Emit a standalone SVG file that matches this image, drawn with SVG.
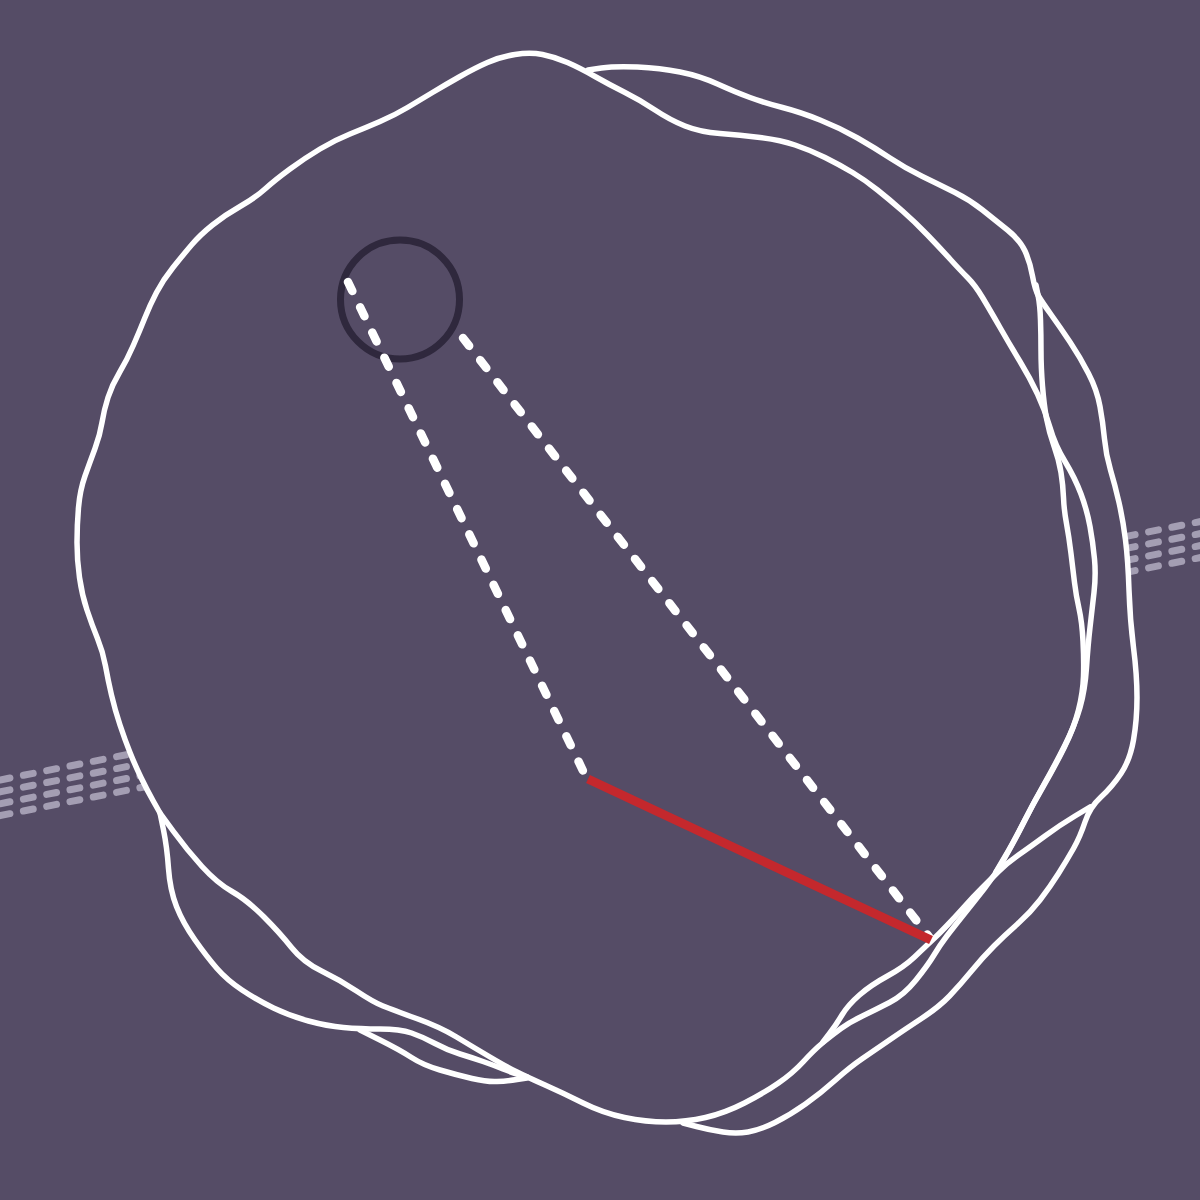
<svg xmlns="http://www.w3.org/2000/svg" width="1200" height="1200" viewBox="0 0 1200 1200">
<style>
.bg{fill:#554C66}
.band{stroke:#A49EB3;stroke-width:7;stroke-linecap:round;stroke-dasharray:10 13.76;fill:none}
.rough{fill:none;stroke:#FFFFFF;stroke-width:5.5;stroke-linecap:round;stroke-linejoin:round}
.dash{fill:none;stroke:#FFFFFF;stroke-width:8.5;stroke-linecap:round;stroke-dasharray:10 18}
.red{fill:none;stroke:#C4282D;stroke-width:9;stroke-linecap:butt}
.ring{fill:none;stroke:#2F283D;stroke-width:7}
</style>
<defs>
<clipPath id="clipL"><polygon points="0,600 102,640 105,666 115,710 125,740 135,765 147,790 160,813 168,850 0,900"/></clipPath>
<clipPath id="clipR"><rect x="1127" y="480" width="80" height="120"/></clipPath>
</defs>
<rect class="bg" x="0" y="0" width="1200" height="1200"/>
<g id="bands">
<g clip-path="url(#clipL)">
<line class="band" x1="-23.2" y1="784.6" x2="200" y2="740"/>
<line class="band" x1="-23.2" y1="796.5" x2="200" y2="751.9"/>
<line class="band" x1="-23.2" y1="808.4" x2="200" y2="763.8"/>
<line class="band" x1="-23.2" y1="820.3" x2="200" y2="775.7"/>
</g>
<g clip-path="url(#clipR)">
<line class="band" x1="1102" y1="541.2" x2="1220" y2="517.6"/>
<line class="band" x1="1102" y1="553.2" x2="1220" y2="529.6"/>
<line class="band" x1="1102" y1="565.2" x2="1220" y2="541.6"/>
<line class="band" x1="1102" y1="577.2" x2="1220" y2="553.6"/>
</g>
</g>
<g id="rough-circle">
<path class="rough" d="M160,813 L153.5,801.5 Q147,790 141,777.5 Q135,765 130,752.5 Q125,740 120,725 Q115,710 111.5,695 Q108,680 105.5,666 Q103,652 97.5,638.5 Q92,625 87,610 Q82,595 79.5,577.5 Q77,560 77,542.5 Q77,525 78.5,507.5 Q80,490 85,476 Q90,462 95,448.5 Q100,435 102,422.5 Q104,410 108,397.5 Q112,385 119.5,372.5 Q127,360 133.5,345 Q140,330 145,317.5 Q150,305 156.5,292.5 Q163,280 173,267.5 Q183,255 191.5,245 Q200,235 212.5,225 Q225,215 240,206.5 Q255,198 265,189 Q275,180 290,169 Q305,158 320,149 Q335,140 350,134 Q365,128 380,121.5 Q395,115 407.5,107.5 Q420,100 432.5,92.5 Q445,85 460,76.5 Q475,68 487.5,62.5 Q500,57 515,54.5 Q530,52 542.5,54.5 Q555,57 567.5,62.5 Q580,68 595,76.5 Q610,85 625,92.5 Q640,100 655,110 Q670,120 685,126 Q700,132 720,133.5 Q740,135 760,137.5 Q780,140 795,145 Q810,150 825,157.5 Q840,165 852.5,172.5 Q865,180 877.5,190 Q890,200 902.5,211 Q915,222 927.5,235 Q940,248 950,259 Q960,270 967.5,277.5 Q975,285 982.5,297.5 Q990,310 1000,327.5 Q1010,345 1020,361.5 Q1030,378 1037.5,394 Q1045,410 1050,427.5 Q1055,445 1065,461.5 Q1075,478 1081,494 Q1087,510 1090,526.5 Q1093,543 1094.5,559 Q1096,575 1094,592.5 Q1092,610 1090,627.5 Q1088,645 1086.5,667.5 Q1085,690 1080,707.5 Q1075,725 1065,745 Q1055,765 1045,782.5 Q1035,800 1025,820 Q1015,840 1005,857.5 Q995,875 984,889 Q973,903 963,915.5 Q953,928 946.5,936.5 Q940,945 934,955 Q928,965 916,980 Q904,995 889.5,1002.5 Q875,1010 862.5,1016 Q850,1022 841,1028.5 Q832,1035 823,1042.5 Q814,1050 803.5,1061.5 Q793,1073 778.5,1083 Q764,1093 744.5,1103 Q725,1113 705.5,1117.5 Q686,1122 666,1122 Q646,1122 624.5,1117.5 Q603,1113 583,1103 Q563,1093 545,1085 Q527,1077 517,1072 Q507,1067 490,1057 Q473,1047 456.5,1037 Q440,1027 416.5,1018.5 Q393,1010 383,1006 Q373,1002 356.5,991 Q340,980 321.5,971 Q303,962 291.5,947.5 Q280,933 263.5,916.5 Q247,900 232,891.5 Q217,883 202,866.5 Q187,850 173.5,831.5 L160,813"/>
<path class="rough" d="M527,1077 L520,1075 Q513,1073 503,1069 Q493,1065 483,1061.5 Q473,1058 460,1054 Q447,1050 435,1043.5 Q423,1037 411.5,1033 Q400,1029 380,1029 Q360,1029 343.5,1027.5 Q327,1026 308.5,1021 Q290,1016 273.5,1008 Q257,1000 242,990 Q227,980 217,968.5 Q207,957 195,940 Q183,923 176.5,906.5 Q170,890 168.5,868.5 Q167,847 163.5,830 L160,813"/>
<path class="rough" d="M527,1078 L517,1079.5 Q507,1081 497,1081.5 Q487,1082 472,1078.5 Q457,1075 440,1070 Q423,1065 411.5,1057.5 Q400,1050 380,1040 L360,1030"/>
<path class="rough" d="M588,70 L601.5,68 Q615,66 637.5,67 Q660,68 680,72 Q700,76 717.5,84 Q735,92 750,97.5 Q765,103 782.5,107.5 Q800,112 820,120 Q840,128 857.5,138 Q875,148 890,158 Q905,168 922.5,176.5 Q940,185 955,192.5 Q970,200 982.5,210 Q995,220 1007.5,230 Q1020,240 1025,251 Q1030,262 1032.5,276 Q1035,290 1038.5,296 Q1042,302 1051,314.5 Q1060,327 1070,342 Q1080,357 1088.5,373.5 Q1097,390 1100,406.5 Q1103,423 1104.5,439 Q1106,455 1110.5,470 Q1115,485 1119,502.5 Q1123,520 1125.5,540 Q1128,560 1129,590 Q1130,620 1133.5,647.5 Q1137,675 1137,697.5 Q1137,720 1133.5,740 Q1130,760 1121,773.5 Q1112,787 1101,797 Q1090,807 1085,822 Q1080,837 1073.5,848.5 Q1067,860 1058.5,873.5 Q1050,887 1040,900 Q1030,913 1017.5,924 Q1005,935 994,946 Q983,957 971.5,971 Q960,985 949.5,996 Q939,1007 921.5,1018.5 Q904,1030 889.5,1040 Q875,1050 862.5,1058.5 Q850,1067 835.5,1080 Q821,1093 805.5,1104 Q790,1115 775,1122.5 Q760,1130 748,1132 Q736,1134 723,1132 Q710,1130 696.5,1126.5 L683,1123"/>
<path class="rough" d="M1036,285 L1038,295 Q1040,305 1040.5,320 Q1041,335 1041,351 Q1041,367 1042.5,386 Q1044,405 1046.5,418.5 Q1049,432 1054,446 Q1059,460 1061,472.5 Q1063,485 1063.5,497.5 Q1064,510 1066.5,523.5 Q1069,537 1071,553.5 Q1073,570 1074.5,582.5 Q1076,595 1079,608.5 Q1082,622 1083,641 Q1084,660 1083.5,676 Q1083,692 1078.5,710 Q1074,728 1064,748 Q1054,768 1043.5,786 Q1033,804 1023,823.5 Q1013,843 1004.5,857.5 L996,872"/>
<path class="rough" d="M1090,807 L1075,816 Q1060,825 1045,836 Q1030,847 1018.5,855 Q1007,863 998.5,871.5 Q990,880 981.5,888.5 Q973,897 964,907 Q955,917 947.5,925 Q940,933 932.5,940 Q925,947 914.5,957 Q904,967 887.5,976 Q871,985 859.5,995 Q848,1005 842,1015 Q836,1025 829.5,1033.5 L823,1042"/>
</g>
<g id="small-circle">
<circle class="ring" cx="400" cy="299.5" r="59.5"/>
</g>
<g id="connectors">
<line class="dash" x1="348" y1="282" x2="586" y2="777"/>
<line class="dash" x1="463" y1="338" x2="930" y2="938"/>
<line class="red" x1="588" y1="779" x2="931" y2="940"/>
</g>
</svg>
